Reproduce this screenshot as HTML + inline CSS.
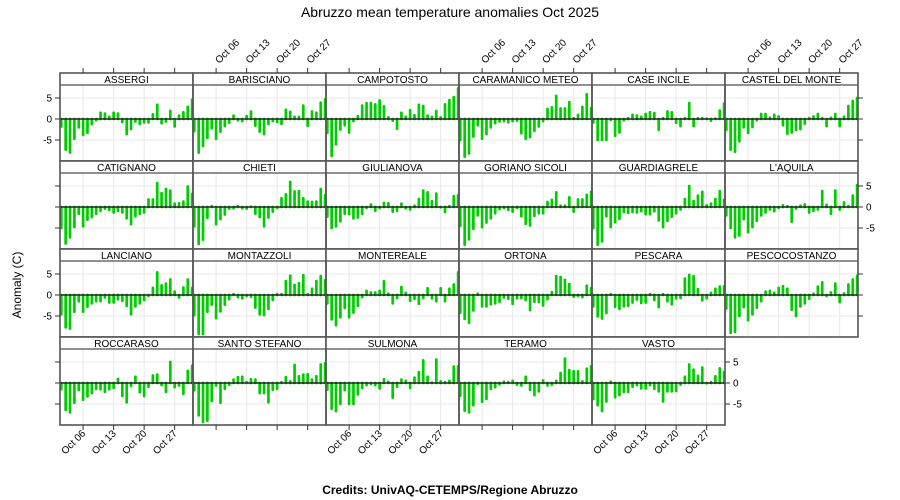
<!DOCTYPE html>
<html><head><meta charset="utf-8"><style>
body{margin:0;background:#fff}
svg{display:block;font-family:"Liberation Sans",sans-serif}
</style></head><body>
<svg id="s" width="900" height="500" xmlns="http://www.w3.org/2000/svg">
<text x="450" y="17" text-anchor="middle" font-size="14">Abruzzo mean temperature anomalies Oct 2025</text>
<text transform="translate(21,285) rotate(-90)" text-anchor="middle" font-size="12">Anomaly (C)</text>
<text x="450" y="494" text-anchor="middle" font-size="12" font-weight="bold">Credits: UnivAQ-CETEMPS/Regione Abruzzo</text>
</svg>
<script>
var D=[
["ASSERGI",[-1.8,-7.3,-8,-4.7,-2,-3.8,-3.3,-1.2,-0.3,1.5,1.3,0.5,1.5,1.3,-0.7,-3.6,-2.4,-0.6,-1.2,-0.8,-0.8,1.1,3.4,-1,-0.6,1.9,-1.8,0.8,1.6,2.9,4.6]],
["BARISCIANO",[-2.9,-8,-6.4,-4.5,-2.2,-4.7,-3,-1.7,-0.9,0.8,-0.3,-0.5,0.7,1.8,-1.6,-3,-3.6,-1.2,-0.5,-0.7,-1.2,2.2,1.7,0.5,0.5,3.2,-1.6,1.8,1.5,3.9,4.7]],
["CAMPOTOSTO",[-3.3,-8.8,-6,-2.5,-1.5,-3.2,-0.5,0.7,3.2,3.8,3.8,3.5,4.4,3,0.4,-0.4,-2.3,1.5,0.5,2.1,0.9,3.4,3.1,0.8,0.5,1.9,0.4,3.5,4.5,5.2,7.3]],
["CARAMANICO METEO",[-5,-9,-8.2,-4.2,-1.5,-4.7,-3.6,-2,-1,-0.6,-0.5,-0.8,-0.5,-0.4,-3.4,-4.7,-4.3,-2.8,-1.8,-0.5,2.4,2.8,5.5,2.5,2.5,4,0.2,1,2.9,5.9,2.6]],
["CASE INCILE",[-0.8,-5,-5,-5,-0.2,-4,-3.2,-0.3,0.2,1,0.8,0.5,1.2,1.6,1.4,-2.6,0.2,1.8,1.6,-0.9,-1.7,0.2,3.8,-1.7,0.2,0.2,0.1,-0.4,0.1,2,3.7]],
["CASTEL DEL MONTE",[-2.6,-7.3,-7.8,-5.3,-2,-3.3,-1.9,-0.3,1.2,1.2,0.3,1,0.6,-1.5,-3.5,-3.2,-2.6,-2.4,-1.1,0.2,0.6,1.2,0.2,-1.7,0.3,1.2,-1.7,0.5,3.1,4.3,5]],
["CATIGNANO",[-5,-8.7,-7.2,-4.8,-1.6,-4.6,-3,-2.4,-1.6,-0.9,-0.4,-0.7,-1.3,-0.9,-1.3,-2.7,-4.1,-2.2,-1.6,-1.3,1.8,1.8,5.7,3.3,4.3,3.9,0.8,0.9,1.3,4.9,3.1]],
["CHIETI",[-4.6,-8.8,-7.8,-2.6,0.2,-4.1,-2.9,-1.8,-0.4,-0.3,0.2,-0.3,-0.4,0.1,-1.6,-2.4,-4.6,-2.5,-1.1,-0.2,2.1,3,6,3.7,3.8,2.1,1.3,1.2,1.3,4.3,2.8]],
["GIULIANOVA",[-2.3,-5,-4.6,-3.4,-1.6,-1.7,-2.7,-2.5,-1.6,-0.2,0.6,-0.9,-0.2,1,0.9,-1.1,-0.9,0.8,-0.3,-0.6,0.3,1.9,3.9,3.5,1.4,3.2,-0.1,-1.2,0.2,2.6,2.8]],
["GORIANO SICOLI",[-4.5,-9,-7.7,-5.2,-2,-4.8,-3.7,-2.7,-1.5,-0.5,-0.2,-0.7,-1.1,-0.2,-2.2,-4,-4.4,-2.1,-1.5,-1.5,1.2,1.7,3.5,0.3,0.3,2.3,-1.1,1.8,1.8,2.9,3.6]],
["GUARDIAGRELE",[-5,-9,-8.2,-2.2,-4.8,-3.6,-2.8,-1.2,-1.4,-1.2,-1.3,-1.0,-1.7,-1.7,-1,-3.2,-4.8,-3.3,-2.3,-1.5,-0.6,1.9,5,1.4,2.7,3.6,0.4,0.8,1.9,3.8,1.7]],
["L'AQUILA",[-2,-5,-7.2,-6.8,-2.9,-6,-4.8,-3.3,-2,-1.3,-0.6,-1,-0.2,0.4,0.2,-3.5,-0.4,0.3,0.6,-1.3,-0.9,-0.6,3.8,0.5,-1.6,3.9,-0.6,1.1,0.2,2.7,5.2]],
["LANCIANO",[-4.6,-7.7,-8,-4,-1.5,-4,-2.8,-2,-1.5,-1.5,-0.6,-1.8,-1.8,-1,-1.4,-2.6,-4.6,-2.7,-2,-1.2,-0.2,1.7,5.4,2.3,2.7,3.7,0.8,-0.6,1.8,3.7,1.7]],
["MONTAZZOLI",[-4.8,-9.3,-9.3,-4,-2.3,-5.5,-3.9,-2.3,-1,0.2,-0.5,-0.8,-0.2,-0.4,-3,-4.6,-4.8,-3.3,-1.2,0.2,0.2,3.3,4.6,2.4,2.8,4.7,0.2,1.5,3.3,4.5,3.5]],
["MONTEREALE",[-2,-5.8,-7.2,-5.3,-3.1,-5.3,-4.2,-2.6,-0.5,1,0.6,0.6,1,3.3,0.3,-2,-0.7,1.9,0.5,-1.4,-0.9,-2.1,-0.7,1.6,-0.8,-1.5,1.6,-1.5,1.5,2.5,5.4]],
["ORTONA",[-4.2,-5.7,-6.6,-3.7,0.3,-2.7,-2.7,-2.2,-2,-1.6,-0.6,-0.9,-2.1,-0.8,-0.7,-1.2,-3.6,-1.6,-1.7,-2.5,-1,0.7,4.5,4.3,3.6,2.6,-0.4,-0.2,-0.5,2.2,1.6]],
["PESCARA",[-2.7,-5.1,-5.6,-4.3,0.2,-2.8,-3.3,-2.7,-2.6,-1.8,-1.1,-1.9,-1.8,0.2,-1.2,-2.9,0.2,-1.5,-2.2,-0.8,-0.7,3.9,4.8,4.5,1.4,-1.3,-0.8,0.5,1.5,2,2.1]],
["PESCOCOSTANZO",[-3.2,-9,-8.8,-5,-2.9,-6,-4.6,-3,-1.5,0.8,1,0.5,1.7,2.1,1.5,-3.5,-5,-2.7,-2,-0.9,0.3,2,3,-0.2,0.6,2.7,-1.7,0.4,2.5,3.7,4.6]],
["ROCCARASO",[-1.5,-6.4,-7,-4.7,-1.7,-4,-3.2,-2.4,-1.4,-1.5,-2.1,-1.5,-1.2,1,-3.1,-4.6,-0.7,1.5,-2.2,-3.1,-0.9,1.8,2,-0.5,-2.1,5,-1,-0.6,-2.6,2.9,4.1]],
["SANTO STEFANO",[-1.7,-7.7,-9.3,-9,-4.3,-0.6,-4.7,-1.4,-0.4,0.8,1.4,1.5,0.2,0.9,0.8,-2.4,-2.4,-4.6,-1.6,-1.4,0.2,1.4,0.4,4.3,1.6,2,2.1,0.8,1.6,4.4,4.7]],
["SULMONA",[-1.6,-6.1,-6.7,-5,-1.7,-5,-5,-2.7,-1.2,-0.5,-0.2,-0.5,-1.3,0.9,0.3,-3.5,-0.9,0.8,0.5,-1.2,1.3,2.6,5.4,1.5,0.1,5.6,0.4,0.2,0.5,3.9,4]],
["TERAMO",[-3,-6.6,-7,-5.3,-0.2,-4.5,-3.8,-1.4,-1,-0.3,0.3,0.2,0.5,-0.4,-0.6,1.5,-1.6,-2.9,-2,0.6,-0.6,-0.4,0.5,2.4,5.8,3.1,2.8,2.8,0.4,3.4,4]],
["VASTO",[-3.8,-5.3,-6.7,-4.4,0.3,-3.4,-2.9,-2.1,-2.1,-0.9,-0.5,-1.3,-1.3,-0.5,-1.4,-2,-4.4,-2,-2,-1.9,-0.4,1.5,4.4,3.2,1.7,3.7,-0.1,0.2,1.6,3.5,2.6]]
];
var s='',W=133,ST=[73,161,249,337],PH=76,U=4.2;
function X(c,d){return 60+c*W+(d-0.7)*4.36;}
var ticks=[6,13,20,27],labs=["Oct 06","Oct 13","Oct 20","Oct 27"];
D.forEach(function(p,i){
 var c=i%6,r=Math.floor(i/6),x0=60+c*W,st=ST[r],pt=st+12,z=pt+34;
 // grid
 ticks.forEach(function(d){var x=X(c,d);s+='<line x1="'+x+'" y1="'+pt+'" x2="'+x+'" y2="'+(pt+PH)+'" stroke="#e8e8e8" stroke-width="1"/>';});
 [-5,5].forEach(function(v){var y=z-v*U;s+='<line x1="'+x0+'" y1="'+y+'" x2="'+(x0+W)+'" y2="'+y+'" stroke="#e8e8e8" stroke-width="1"/>';});
 p[1].forEach(function(v,k){var x=X(c,k+1),y=z-v*U;s+='<line x1="'+x+'" y1="'+z+'" x2="'+x+'" y2="'+y+'" stroke="#00cd00" stroke-width="2.7" stroke-linecap="round"/>';});
 s+='<line x1="'+x0+'" y1="'+z+'" x2="'+(x0+W)+'" y2="'+z+'" stroke="#222" stroke-width="1.6"/>';
 s+='<rect x="'+x0+'" y="'+st+'" width="'+W+'" height="12" fill="#fff" stroke="#222" stroke-width="1"/>';
 s+='<text x="'+(x0+W/2)+'" y="'+(st+10)+'" text-anchor="middle" font-size="10">'+p[0]+'</text>';
 s+='<rect x="'+x0+'" y="'+st+'" width="'+W+'" height="'+(PH+12)+'" fill="none" stroke="#555" stroke-width="1.6"/>';
});
// y axes
function yax(x,r,dir,lab){var z=ST[r]+12+34;[-5,0,5].forEach(function(v){var y=z-v*U;s+='<line x1="'+x+'" y1="'+y+'" x2="'+(x+dir*5)+'" y2="'+y+'" stroke="#333"/>';if(lab)s+='<text x="'+(x+dir*8)+'" y="'+(y+3.5)+'" text-anchor="'+(dir<0?'end':'start')+'" font-size="10">'+v+'</text>';});}
yax(60,0,-1,1);yax(858,0,1,0);yax(60,1,-1,0);yax(858,1,1,1);yax(60,2,-1,1);yax(858,2,1,0);yax(60,3,-1,0);yax(725,3,1,1);
// x axes
for(var c=0;c<6;c++){ticks.forEach(function(d,k){var x=X(c,d);
 s+='<line x1="'+x+'" y1="73" x2="'+x+'" y2="68" stroke="#333"/>';
 if(c%2==1)s+='<text transform="translate('+(x+3)+',64) rotate(-45)" font-size="10">'+labs[k]+'</text>';
 if(c<5){s+='<line x1="'+x+'" y1="425" x2="'+x+'" y2="430" stroke="#333"/>';
 if(c%2==0)s+='<text transform="translate('+(x+3)+',434) rotate(-45)" text-anchor="end" font-size="10">'+labs[k]+'</text>';}
});}
document.getElementById('s').insertAdjacentHTML('beforeend',s);
</script>
</body></html>
